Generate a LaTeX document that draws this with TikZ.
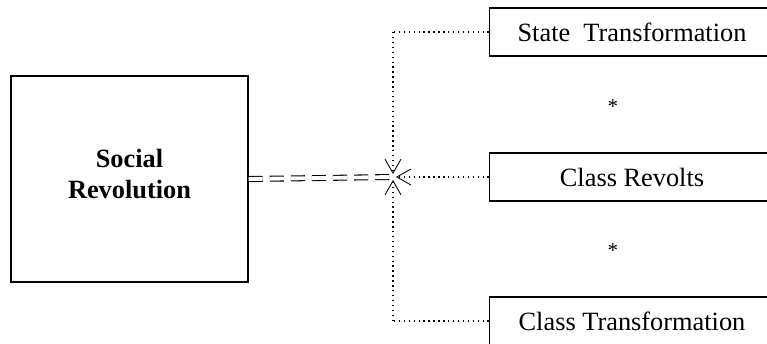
\documentclass[tikz,border=0pt]{standalone}
\usepackage{fontspec}
\setmainfont{Liberation Serif}
\usetikzlibrary{arrows.meta, positioning}

\begin{document}
\begin{tikzpicture}[
  x=0.02cm, y=-0.02cm,
  % the three factors on the right, cut by the page edge
  factor/.style={draw, line width=0.8pt, minimum width=5.7cm, minimum height=0.96cm,
                 font=\fontsize{15}{18}\selectfont, inner sep=0pt},
  outcome/.style={draw, line width=0.8pt, minimum width=4.74cm, minimum height=4.12cm,
                  font=\fontsize{15}{17.5}\selectfont\bfseries, align=center},
  feed/.style={dotted, line width=0.8pt},
  farr/.style={feed, -{Straight Barb[open, length=2.8mm, width=3.2mm, line width=0.5pt]}},
  link/.style={double, double distance=2.2pt, line width=0.6pt, dash pattern=on 8pt off 4pt}
]
\clip (0,0) rectangle (767,344);
\fill[white] (0,0) rectangle (767,344);

\node[outcome] (soc) at (129.5,179) {Social\\Revolution\\[-12pt]\mbox{}};

\node[factor] (state) at (632,32)  {State\ \ Transformation};
\node[factor] (revo)  at (632,177) {Class Revolts};
\node[factor] (trans) at (632,321) {Class Transformation};

\node[font=\large] (star1) at (613,107) {*};
\node[font=\large] (star2) at (613,251) {*};

\coordinate (meet) at (393,177);

\draw[feed] (state.west) -- (meet |- state.west) coordinate (up);
\draw[farr] (up) -- ([yshift=0.06cm]meet);
\draw[feed] (trans.west) -- (meet |- trans.west) coordinate (down);
\draw[farr] (down) -- ([yshift=-0.06cm]meet);
\draw[farr] (revo.west) -- ([xshift=0.06cm]meet);

\draw[link] (soc.east) -- (meet);
\end{tikzpicture}
\end{document}
